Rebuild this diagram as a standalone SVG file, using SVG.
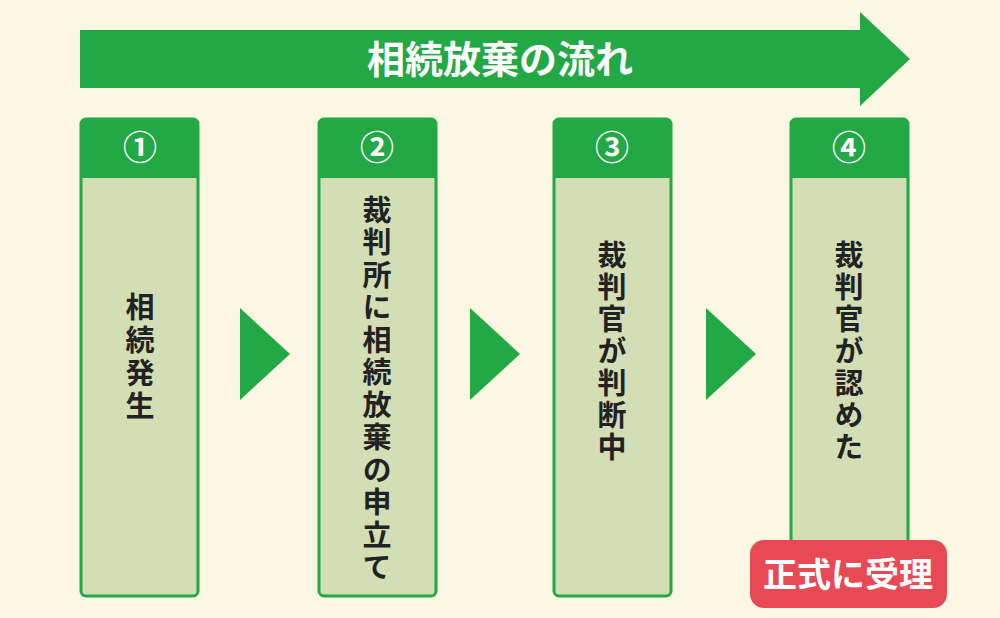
<svg xmlns="http://www.w3.org/2000/svg" width="1000" height="618" viewBox="0 0 1000 618">
<style>
.box{fill:#d3deb5;stroke:#22a845;stroke-width:3}
.hd{fill:#22a845}
.num{font-family:"Noto Sans CJK JP","Noto Sans",sans-serif;font-size:34px;fill:#fff;text-anchor:middle;font-weight:bold}
.vt{font-family:"Noto Sans CJK JP",sans-serif;font-size:29px;fill:#222;writing-mode:vertical-rl;font-weight:bold}
.tri{fill:#22a845}
</style>
<rect width="1000" height="618" fill="#fbf7e3"/>
<g id="title">
<polygon points="80,30 860,30 860,12 910,59 860,106 860,88 80,88" fill="#22a845"/>
<text x="500" y="73" font-family="Noto Sans CJK JP,sans-serif" font-size="38" font-weight="bold" fill="#fff" text-anchor="middle">相続放棄の流れ</text>
</g>
<g id="n1"><rect class="box" x="81" y="119" width="117" height="477" rx="5"/><path class="hd" d="M81,124 a5,5 0 0 1 5,-5 h107 a5,5 0 0 1 5,5 v54 h-117z"/><text class="num" x="140" y="160">①</text><text class="vt" x="140" y="292" letter-spacing="4">相続発生</text></g>
<g id="n2"><rect class="box" x="319" y="119" width="117" height="477" rx="5"/><path class="hd" d="M319,124 a5,5 0 0 1 5,-5 h107 a5,5 0 0 1 5,5 v54 h-117z"/><text class="num" x="377" y="160">②</text><text class="vt" x="377" y="195" letter-spacing="3.5">裁判所に相続放棄の申立て</text></g>
<g id="n3"><rect class="box" x="554" y="119" width="117" height="477" rx="5"/><path class="hd" d="M554,124 a5,5 0 0 1 5,-5 h107 a5,5 0 0 1 5,5 v54 h-117z"/><text class="num" x="612" y="160">③</text><text class="vt" x="612" y="240" letter-spacing="3">裁判官が判断中</text></g>
<g id="n4"><rect class="box" x="791" y="119" width="117" height="477" rx="5"/><path class="hd" d="M791,124 a5,5 0 0 1 5,-5 h107 a5,5 0 0 1 5,5 v54 h-117z"/><text class="num" x="849" y="160">④</text><text class="vt" x="849" y="240" letter-spacing="3">裁判官が認めた</text></g>
<g id="connectors">
<polygon class="tri" points="240,308 290,354 240,400"/>
<polygon class="tri" points="470,308 520,354 470,400"/>
<polygon class="tri" points="706,308 756,354 706,400"/>
</g>
<g id="badge"><rect x="750" y="540" width="197" height="68" rx="14" fill="#e84a55"/><text x="848" y="587" font-family="Noto Sans CJK JP,sans-serif" font-size="34" font-weight="bold" fill="#fff" text-anchor="middle">正式に受理</text></g>
</svg>
